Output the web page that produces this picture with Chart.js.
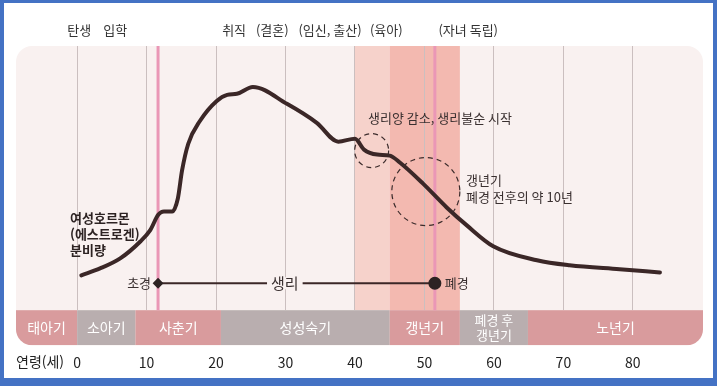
<!DOCTYPE html>
<html lang="ko">
<head>
<meta charset="utf-8">
<script src="https://cdn.jsdelivr.net/npm/chart.js@4.4.1/dist/chart.umd.min.js"></script>
<style>
  html, body { margin: 0; padding: 0; background: #fff; }
  canvas { display: block; }
</style>
</head>
<body>
<canvas id="chart" width="717" height="386"></canvas>
<script>
/* ---------------- data ---------------- */
const AGES     = [0.6, 3.3, 6.2, 9.1, 10.5, 11.7, 12.5, 13.7, 14.5, 15.1, 16.0, 17.7, 20.1, 21.6, 23.0, 25.3, 30.2, 34.5, 37.6, 40.0, 41.3, 43.2, 45.0, 46.5, 49.8, 53.2, 56.1, 59.9, 66.2, 70.9, 78.1, 83.9];
const HORMONE  = [13.2, 15.8, 19.6, 26.0, 30.2, 36.2, 37.4, 37.4, 42.3, 52.8, 63.0, 71.7, 79.2, 81.5, 81.9, 84.5, 78.1, 70.9, 63.8, 64.9, 60.8, 58.9, 58.5, 55.8, 47.9, 38.9, 32.1, 24.2, 18.9, 17.0, 15.5, 14.3];

const AGE_TICKS = [0, 10, 20, 30, 40, 50, 60, 70, 80];

const STAGE_NAMES = ['태아기', '소아기', '사춘기', '성성숙기', '갱년기', ['폐경 후', '갱년기'], '노년기'];
const STAGE_START = [-8.8, 0, 8.4, 20.7, 45, 55.1, 64.9];
const STAGE_END   = [0, 8.4, 20.7, 45, 55.1, 64.9, 90.1];

const EVENT_LABELS = ['탄생', '입학', '취직', '(결혼)', '(임신, 출산)', '(육아)', '(자녀 독립)'];
const EVENT_AGES   = [0.3, 5.5, 22.6, 28.1, 36.4, 44.5, 56.3];

const MENARCHE_AGE = 11.65;
const MENOPAUSE_AGE = 51.5;
const PERIOD_LEVEL = 10.2;

/* ---------------- drawing helpers ---------------- */
const FONT = '"Noto Sans CJK KR", "Noto Sans", sans-serif';
const PANEL_BG = '#f9f1f0';
const BAND_H = 35;

const decor = {
  id: 'decor',
  beforeDraw(chart) {
    const { ctx, chartArea: a, scales: { x } } = chart;
    ctx.save();
    // blue frame
    ctx.fillStyle = '#4472c4';
    ctx.fillRect(0, 0, chart.width, chart.height);
    ctx.fillStyle = '#ffffff';
    ctx.fillRect(4, 3, 709, 375);

    // panel
    const bottom = a.bottom + BAND_H;
    ctx.beginPath();
    ctx.roundRect(a.left, a.top, a.right - a.left, bottom - a.top, 16);
    ctx.fillStyle = PANEL_BG;
    ctx.fill();
    ctx.clip();

    // climacteric shading
    ctx.fillStyle = '#f6d2cb';
    ctx.fillRect(x.getPixelForValue(40), a.top, x.getPixelForValue(45) - x.getPixelForValue(40), a.bottom - a.top);
    ctx.fillStyle = '#f3b9b0';
    ctx.fillRect(x.getPixelForValue(45), a.top, x.getPixelForValue(55.1) - x.getPixelForValue(45), a.bottom - a.top);

    // life stages
    STAGE_NAMES.forEach((name, i) => {
      const x0 = x.getPixelForValue(STAGE_START[i]);
      const x1 = x.getPixelForValue(STAGE_END[i]);
      ctx.fillStyle = i % 2 === 0 ? '#d99b9d' : '#b9aeaf';
      ctx.fillRect(x0, a.bottom, x1 - x0, BAND_H);
      ctx.fillStyle = '#ffffff';
      ctx.textAlign = 'center';
      ctx.textBaseline = 'middle';
      const cx = (x0 + x1) / 2;
      if (Array.isArray(name)) {
        ctx.font = '13px ' + FONT;
        ctx.fillText(name[0], cx, a.bottom + 10);
        ctx.fillText(name[1], cx, a.bottom + 25);
      } else {
        ctx.font = '14px ' + FONT;
        ctx.fillText(name, cx, a.bottom + BAND_H / 2);
      }
    });
    ctx.restore();
  },
  beforeDatasetsDraw(chart) {
    const { ctx, chartArea: a, scales: { x } } = chart;
    ctx.save();
    ctx.strokeStyle = '#ea97b6';
    ctx.lineWidth = 3;
    [MENARCHE_AGE, MENOPAUSE_AGE].forEach(age => {
      const px = x.getPixelForValue(age);
      ctx.beginPath();
      ctx.moveTo(px, a.top);
      ctx.lineTo(px, a.bottom);
      ctx.stroke();
    });
    ctx.restore();
  },
  afterDatasetsDraw(chart) {
    const { ctx, chartArea: a, scales: { x, y } } = chart;
    ctx.save();
    ctx.fillStyle = '#333333';
    ctx.textBaseline = 'middle';

    // life events above the panel
    ctx.font = '13px ' + FONT;
    ctx.textAlign = 'center';
    EVENT_LABELS.forEach((t, i) => ctx.fillText(t, x.getPixelForValue(EVENT_AGES[i]), 30));

    // age label
    ctx.textAlign = 'left';
    ctx.font = '14px ' + FONT;
    ctx.fillStyle = '#222';
    ctx.fillText('연령(세)', 16, 362);

    // hormone label
    ctx.fillStyle = '#2d2323';
    ctx.font = 'bold 13px ' + FONT;
    ['여성호르몬', '(에스트로겐)', '분비량'].forEach((t, i) => ctx.fillText(t, 70, 218 + i * 16));

    // dashed circles
    ctx.strokeStyle = '#3b2b2b';
    ctx.lineWidth = 1.2;
    ctx.setLineDash([5, 4]);
    ctx.beginPath();
    ctx.arc(x.getPixelForValue(42.4), y.getPixelForValue(60.4), 17, 0, Math.PI * 2);
    ctx.stroke();
    ctx.beginPath();
    ctx.arc(x.getPixelForValue(50.2), y.getPixelForValue(44.9), 34, 0, Math.PI * 2);
    ctx.stroke();
    ctx.setLineDash([]);

    // notes
    ctx.fillStyle = '#3a3030';
    ctx.font = '13px ' + FONT;
    ctx.fillText('생리양 감소, 생리불순 시작', 368, 118);
    ctx.fillText('갱년기', 466, 180);
    ctx.fillText('폐경 전후의 약 10년', 466, 197);

    // menarche / menopause / period
    const py = y.getPixelForValue(PERIOD_LEVEL);
    ctx.textAlign = 'right';
    ctx.fillText('초경', x.getPixelForValue(MENARCHE_AGE) - 7, py);
    ctx.textAlign = 'left';
    ctx.fillText('폐경', x.getPixelForValue(MENOPAUSE_AGE) + 10, py);

    const cx = x.getPixelForValue(29.9);
    ctx.font = '15px ' + FONT;
    const w = ctx.measureText('생리').width;
    ctx.fillStyle = PANEL_BG;
    ctx.fillRect(cx - w / 2 - 4, py - 6, w + 8, 12);
    ctx.fillStyle = '#3a3030';
    ctx.textAlign = 'center';
    ctx.fillText('생리', cx, py);
    ctx.restore();
  }
};

/* ---------------- chart ---------------- */
new Chart(document.getElementById('chart'), {
  type: 'line',
  data: {
    datasets: [
      {
        label: '여성호르몬',
        data: AGES.map((a, i) => ({ x: a, y: HORMONE[i] })),
        borderColor: '#3b2727',
        borderWidth: 4,
        pointRadius: 0,
        cubicInterpolationMode: 'monotone',
        borderCapStyle: 'round'
      },
      {
        label: '생리',
        data: [{ x: MENARCHE_AGE, y: PERIOD_LEVEL }, { x: MENOPAUSE_AGE, y: PERIOD_LEVEL }],
        borderColor: '#3b2727',
        borderWidth: 2,
        pointStyle: ['rectRot', 'circle'],
        pointRadius: [4, 5.5],
        pointBackgroundColor: '#2d2323',
        pointBorderColor: '#2d2323'
      }
    ]
  },
  options: {
    responsive: false,
    animation: false,
    layout: { padding: { left: 16, right: 14, top: 46, bottom: 15 } },
    font: { family: FONT },
    plugins: { legend: { display: false }, tooltip: { enabled: false } },
    scales: {
      x: {
        type: 'linear',
        min: -8.8,
        max: 90.1,
        afterBuildTicks: s => { s.ticks = AGE_TICKS.map(v => ({ value: v })); },
        grid: { color: '#cbbfbf', lineWidth: 1, drawTicks: true, tickLength: 44, tickColor: 'rgba(0,0,0,0)' },
        border: { display: false },
        ticks: { padding: 0, color: '#222', font: { family: FONT, size: 14 } }
      },
      y: { display: false, min: 0, max: 100 }
    }
  },
  plugins: [decor]
});
</script>
</body>
</html>
